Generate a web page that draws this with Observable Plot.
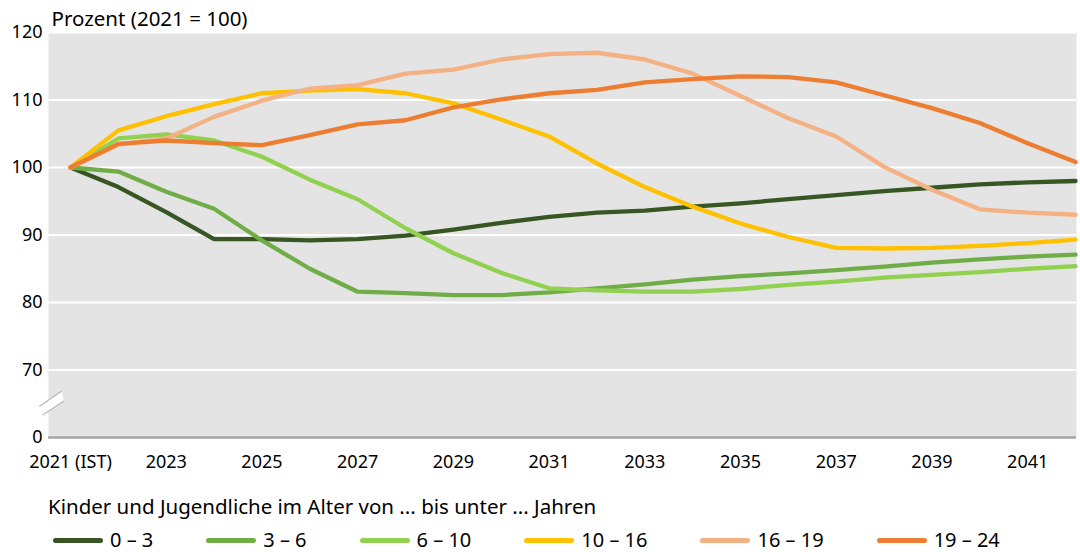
<!DOCTYPE html>
<html>
<head>
<meta charset="utf-8">
<script src="https://cdn.jsdelivr.net/npm/d3@7"></script>
<script src="https://cdn.jsdelivr.net/npm/@observablehq/plot@0.6"></script>
<style>
  html, body { margin: 0; padding: 0; background: #fff; }
  body { width: 1080px; height: 552px; position: relative; overflow: hidden; font-family: "Noto Sans", sans-serif; color: #000; }
  #chart { position: absolute; left: 0; top: 0; }
  #legendTitle { position: absolute; left: 48px; top: 494px; font-size: 20.5px; line-height: 24px; white-space: nowrap; }
  #legend { position: absolute; left: 53px; top: 528px; display: flex; align-items: center; font-size: 20px; line-height: 24px; white-space: nowrap; }
  .item { display: flex; align-items: center; margin-right: 53px; }
  .sw { width: 50px; height: 5px; border-radius: 3px; margin-right: 7px; }
</style>
</head>
<body>
<div id="chart"></div>
<div id="legendTitle"></div>
<div id="legend"></div>
<script>
const years = [2021, 2022, 2023, 2024, 2025, 2026, 2027, 2028, 2029, 2030, 2031, 2032, 2033, 2034, 2035, 2036, 2037, 2038, 2039, 2040, 2041, 2042];
const seriesNames = ["0 – 3", "3 – 6", "6 – 10", "10 – 16", "16 – 19", "19 – 24"];
const seriesColors = ["#375623", "#70ad47", "#92d050", "#ffc000", "#f4b183", "#ed7d31"];
const s0_3   = [100, 97.1, 93.4, 89.4, 89.4, 89.2, 89.4, 89.9, 90.8, 91.8, 92.7, 93.3, 93.6, 94.2, 94.7, 95.3, 95.9, 96.5, 97.0, 97.5, 97.8, 98.0];
const s3_6   = [100, 99.4, 96.4, 93.9, 89.2, 85.0, 81.6, 81.4, 81.1, 81.1, 81.5, 82.1, 82.7, 83.4, 83.9, 84.3, 84.8, 85.3, 85.9, 86.4, 86.8, 87.1];
const s6_10  = [100, 104.3, 104.9, 104.0, 101.6, 98.2, 95.3, 91.0, 87.3, 84.4, 82.1, 81.8, 81.6, 81.6, 82.0, 82.6, 83.1, 83.7, 84.1, 84.5, 85.0, 85.4];
const s10_16 = [100, 105.5, 107.6, 109.4, 111.0, 111.4, 111.6, 111.0, 109.5, 107.1, 104.6, 100.6, 97.1, 94.2, 91.7, 89.7, 88.1, 88.0, 88.1, 88.4, 88.8, 89.3];
const s16_19 = [100, 103.4, 104.3, 107.5, 109.9, 111.7, 112.2, 113.9, 114.5, 116.0, 116.8, 117.0, 116.0, 113.9, 110.6, 107.3, 104.6, 100.1, 96.7, 93.8, 93.3, 93.0];
const s19_24 = [100, 103.5, 104.0, 103.6, 103.3, 104.8, 106.4, 107.0, 108.9, 110.1, 111.0, 111.5, 112.6, 113.1, 113.5, 113.4, 112.6, 110.7, 108.8, 106.6, 103.6, 100.8];
const xTicks = [2021, 2023, 2025, 2027, 2029, 2031, 2033, 2035, 2037, 2039, 2041];
const xTickLabels = ["2021 (IST)", "2023", "2025", "2027", "2029", "2031", "2033", "2035", "2037", "2039", "2041"];
const yTicks = [60, 70, 80, 90, 100, 110, 120];
const yTickLabels = ["0", "70", "80", "90", "100", "110", "120"];
const gridValues = [70, 80, 90, 100, 110, 120];
const yBreakValue = 65;
const titleText = "Prozent (2021 = 100)";
const legendTitleText = "Kinder und Jugendliche im Alter von ... bis unter ... Jahren";

const allSeries = [s0_3, s3_6, s6_10, s10_16, s16_19, s19_24];
const data = [];
allSeries.forEach((vals, i) => vals.forEach((v, j) => data.push({series: seriesNames[i], year: years[j], value: v})));

function breakMark(index, scales, values, dimensions) {
  const cx = dimensions.marginLeft + 4;
  const cy = scales.y(yBreakValue);
  const g = d3.create("svg:g");
  const p = [[-12.7, 3.3], [9.7, -12.3], [12, -2.3], [-9.3, 11.7]].map(([dx, dy]) => [cx + dx, cy + dy]);
  g.append("path").attr("d", "M" + p.join("L") + "Z").attr("fill", "#fff").attr("stroke", "none");
  g.append("path").attr("d", "M" + p[0] + "L" + p[1]).attr("stroke", "#b8b8b8").attr("stroke-width", 1.2);
  g.append("path").attr("d", "M" + p[3] + "L" + p[2]).attr("stroke", "#b8b8b8").attr("stroke-width", 1.2);
  return g.node();
}

const chart = Plot.plot({
  width: 1080,
  height: 480,
  marginLeft: 48,
  marginRight: 4,
  marginTop: 32,
  marginBottom: 43,
  style: {fontFamily: "'Noto Sans', sans-serif", fontSize: "18px", color: "#000", background: "transparent", overflow: "visible"},
  x: {domain: [2020.54, 2042.02]},
  y: {domain: [60, 120]},
  color: {domain: seriesNames, range: seriesColors},
  marks: [
    Plot.frame({fill: "#e4e4e4", stroke: null}),
    Plot.gridY(gridValues, {stroke: "#fff", strokeOpacity: 1, strokeWidth: 2}),
    Plot.ruleY([60], {stroke: "#a6a6a6", strokeWidth: 2.5}),
    Plot.line(data, {x: "year", y: "value", z: "series", stroke: "series", strokeWidth: 4.3, strokeLinejoin: "round", strokeLinecap: "round"}),
    breakMark,
    Plot.axisX(xTicks, {tickSize: 0, tickPadding: 18, tickFormat: d => xTickLabels[xTicks.indexOf(d)], fontSize: 18, label: null}),
    Plot.axisY(yTicks, {tickSize: 0, tickPadding: 6, tickFormat: d => yTickLabels[yTicks.indexOf(d)], fontSize: 18, label: null}),
    Plot.text([titleText], {frameAnchor: "top-left", text: d => d, dx: 3, dy: -13, fontSize: 20.5, textAnchor: "start", lineAnchor: "middle"})
  ]
});
document.getElementById("chart").appendChild(chart);

document.getElementById("legendTitle").textContent = legendTitleText;
const leg = document.getElementById("legend");
seriesNames.forEach((n, i) => {
  const it = document.createElement("div");
  it.className = "item";
  const sw = document.createElement("div");
  sw.className = "sw";
  sw.style.background = seriesColors[i];
  const lb = document.createElement("span");
  lb.textContent = n;
  it.appendChild(sw); it.appendChild(lb);
  leg.appendChild(it);
});
</script>
</body>
</html>
